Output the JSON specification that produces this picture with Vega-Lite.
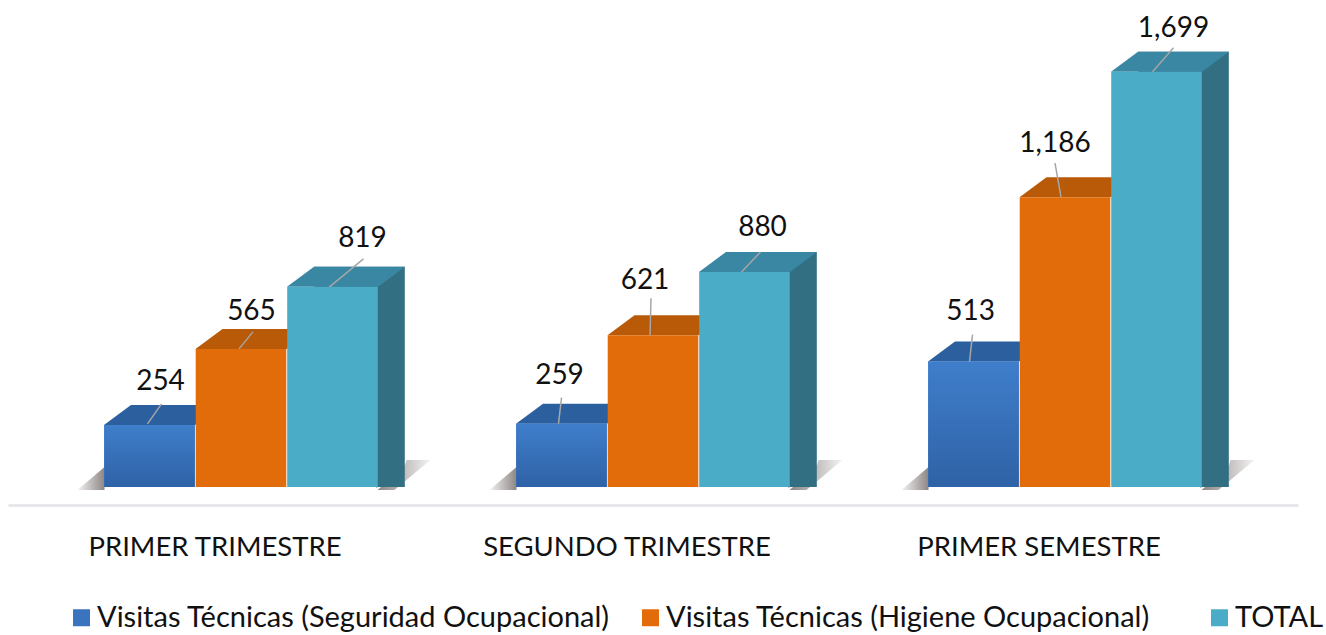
{"$schema":"https://vega.github.io/schema/vega-lite/v6.json","width":1326,"height":635,"autosize":{"type":"none"},"padding":0,"background":"white","config":{"view":{"stroke":null},"font":"Lato","text":{"font":"Lato"}},
"data":{"values":[
{"periodo":"PRIMER TRIMESTRE","serie":"Visitas Técnicas (Seguridad Ocupacional)","valor":254},
{"periodo":"PRIMER TRIMESTRE","serie":"Visitas Técnicas (Higiene Ocupacional)","valor":565},
{"periodo":"PRIMER TRIMESTRE","serie":"TOTAL","valor":819},
{"periodo":"SEGUNDO TRIMESTRE","serie":"Visitas Técnicas (Seguridad Ocupacional)","valor":259},
{"periodo":"SEGUNDO TRIMESTRE","serie":"Visitas Técnicas (Higiene Ocupacional)","valor":621},
{"periodo":"SEGUNDO TRIMESTRE","serie":"TOTAL","valor":880},
{"periodo":"PRIMER SEMESTRE","serie":"Visitas Técnicas (Seguridad Ocupacional)","valor":513},
{"periodo":"PRIMER SEMESTRE","serie":"Visitas Técnicas (Higiene Ocupacional)","valor":1186},
{"periodo":"PRIMER SEMESTRE","serie":"TOTAL","valor":1699}]},
"encoding":{
"x":{"field":"periodo","type":"nominal","sort":["PRIMER TRIMESTRE","SEGUNDO TRIMESTRE","PRIMER SEMESTRE"],"scale":{"range":[8,1298],"paddingInner":0,"paddingOuter":0.0655},"axis":{"title":null,"orient":"bottom","offset":-130,"labelAngle":0,"ticks":false,"grid":false,"domainColor":"#e3e3e8","domainWidth":2.5,"labelFont":"Lato","labelFontSize":27.5,"labelColor":"#111111","labelPadding":28,"labelOffset":-26,"labelLimit":0,"labelOverlap":false}},
"xOffset":{"field":"serie","type":"nominal","sort":["Visitas Técnicas (Seguridad Ocupacional)","Visitas Técnicas (Higiene Ocupacional)","TOTAL"],"scale":{"paddingInner":0.01,"paddingOuter":0.7565}},
"y":{"field":"valor","type":"quantitative","stack":null,"scale":{"domain":[-606,1993],"nice":false,"zero":false},"axis":null}},
"layer":[
{"transform":[{"filter":"datum.serie=='TOTAL'"}],"mark":{"type":"point","filled":true,"size":4,"opacity":1,"fill":{"gradient":"linear","x1":0,"x2":1,"y1":0,"y2":0,"stops":[{"offset":0,"color":"#8d8684"},{"offset":1,"color":"#f4f3f3"}]},"shape":"M45,3L72,-20L74,-27L98,-27L62,3Z"},"encoding":{"y":{"datum":0,"type":"quantitative"}}},
{"transform":[{"filter":"datum.serie=='Visitas Técnicas (Seguridad Ocupacional)'"}],"mark":{"type":"point","filled":true,"size":4,"opacity":1,"fill":{"gradient":"linear","x1":0,"x2":1,"y1":0,"y2":0,"stops":[{"offset":0,"color":"#f4f3f3"},{"offset":1,"color":"#8d8684"}]},"shape":"M-45,-20L-72,3L-45,3Z"},"encoding":{"y":{"datum":0,"type":"quantitative"}}},
{"transform":[{"filter":"datum.serie=='TOTAL'"}],"mark":{"type":"bar","width":90.6,"xOffset":118.5,"yOffset":-20,"y2Offset":-20,"fill":"#326f82"},"encoding":{"xOffset":null}},
{"transform":[{"filter":"datum.serie=='TOTAL'"}],"mark":{"type":"point","filled":true,"size":4,"opacity":1,"fill":"#326f82","shape":"M44,1L72.5,-20.5L44,-20.5Z"},"encoding":{"y":{"datum":0,"type":"quantitative"}}},
{"mark":{"type":"point","filled":true,"size":4,"opacity":1,"shape":"M-45.5,0L45.5,0L72.5,-20L-18.5,-20Z"},"encoding":{"fill":{"field":"serie","type":"nominal","legend":null,"scale":{"domain":["TOTAL","Visitas Técnicas (Higiene Ocupacional)","Visitas Técnicas (Seguridad Ocupacional)"],"range":["#3a87a3","#b85a08","#2c5f9e"]}}}},
{"mark":{"type":"bar","opacity":1},"encoding":{"color":{"field":"serie","type":"nominal","scale":{"domain":["Visitas Técnicas (Seguridad Ocupacional)","Visitas Técnicas (Higiene Ocupacional)","TOTAL"],"range":["#3a74be","#e36c0a","#4bacc8"]},"legend":{"title":null,"orient":"none","legendX":67,"legendY":603,"direction":"horizontal","gridAlign":"all","symbolType":"square","symbolSize":289,"symbolStrokeWidth":0,"symbolOpacity":1,"labelFont":"Lato","labelFontSize":29,"labelColor":"#111111","labelLimit":0,"labelOffset":1,"columnPadding":26}}}},
{"transform":[{"filter":"datum.serie=='Visitas Técnicas (Seguridad Ocupacional)'"}],"mark":{"type":"bar","opacity":1,"fill":{"gradient":"linear","x1":0,"x2":0,"y1":0,"y2":1,"stops":[{"offset":0,"color":"#3f7ecb"},{"offset":1,"color":"#2f62a6"}]}}},
{"transform":[{"filter":"datum.valor==254"}],"mark":{"type":"point","filled":false,"size":4,"opacity":1,"stroke":"#a6a6a6","strokeWidth":1.5,"shape":"M-2,-1L12,-21"}},
{"transform":[{"filter":"datum.valor==565"}],"mark":{"type":"point","filled":false,"size":4,"opacity":1,"stroke":"#a6a6a6","strokeWidth":1.5,"shape":"M-2,0L12,-17"}},
{"transform":[{"filter":"datum.valor==819"}],"mark":{"type":"point","filled":false,"size":4,"opacity":1,"stroke":"#a6a6a6","strokeWidth":1.5,"shape":"M-3,0L31,-28"}},
{"transform":[{"filter":"datum.valor==259"}],"mark":{"type":"point","filled":false,"size":4,"opacity":1,"stroke":"#a6a6a6","strokeWidth":1.5,"shape":"M-3,0L0,-26"}},
{"transform":[{"filter":"datum.valor==621"}],"mark":{"type":"point","filled":false,"size":4,"opacity":1,"stroke":"#a6a6a6","strokeWidth":1.5,"shape":"M-3,0L-2,-37"}},
{"transform":[{"filter":"datum.valor==880"}],"mark":{"type":"point","filled":false,"size":4,"opacity":1,"stroke":"#a6a6a6","strokeWidth":1.5,"shape":"M-3,0L16,-20"}},
{"transform":[{"filter":"datum.valor==513"}],"mark":{"type":"point","filled":false,"size":4,"opacity":1,"stroke":"#a6a6a6","strokeWidth":1.5,"shape":"M-4,0L-1,-27"}},
{"transform":[{"filter":"datum.valor==1186"}],"mark":{"type":"point","filled":false,"size":4,"opacity":1,"stroke":"#a6a6a6","strokeWidth":1.5,"shape":"M-4,0L-10,-34"}},
{"transform":[{"filter":"datum.valor==1699"}],"mark":{"type":"point","filled":false,"size":4,"opacity":1,"stroke":"#a6a6a6","strokeWidth":1.5,"shape":"M-4,0L17,-24"}},
{"transform":[{"filter":"datum.valor==254"}],"mark":{"type":"text","font":"Lato","fontSize":28,"fill":"#111111","dx":11,"dy":-43},"encoding":{"text":{"field":"valor","type":"quantitative","format":","}}},
{"transform":[{"filter":"datum.valor==565"}],"mark":{"type":"text","font":"Lato","fontSize":28,"fill":"#111111","dx":10.5,"dy":-37},"encoding":{"text":{"field":"valor","type":"quantitative","format":","}}},
{"transform":[{"filter":"datum.valor==819"}],"mark":{"type":"text","font":"Lato","fontSize":28,"fill":"#111111","dx":30,"dy":-48},"encoding":{"text":{"field":"valor","type":"quantitative","format":","}}},
{"transform":[{"filter":"datum.valor==259"}],"mark":{"type":"text","font":"Lato","fontSize":28,"fill":"#111111","dx":-2,"dy":-48},"encoding":{"text":{"field":"valor","type":"quantitative","format":","}}},
{"transform":[{"filter":"datum.valor==621"}],"mark":{"type":"text","font":"Lato","fontSize":28,"fill":"#111111","dx":-8,"dy":-54},"encoding":{"text":{"field":"valor","type":"quantitative","format":","}}},
{"transform":[{"filter":"datum.valor==880"}],"mark":{"type":"text","font":"Lato","fontSize":28,"fill":"#111111","dx":18,"dy":-44},"encoding":{"text":{"field":"valor","type":"quantitative","format":","}}},
{"transform":[{"filter":"datum.valor==513"}],"mark":{"type":"text","font":"Lato","fontSize":28,"fill":"#111111","dx":-3,"dy":-50},"encoding":{"text":{"field":"valor","type":"quantitative","format":","}}},
{"transform":[{"filter":"datum.valor==1186"}],"mark":{"type":"text","font":"Lato","fontSize":28,"fill":"#111111","dx":-10,"dy":-53},"encoding":{"text":{"field":"valor","type":"quantitative","format":","}}},
{"transform":[{"filter":"datum.valor==1699"}],"mark":{"type":"text","font":"Lato","fontSize":28,"fill":"#111111","dx":17,"dy":-43},"encoding":{"text":{"field":"valor","type":"quantitative","format":","}}}
]}
